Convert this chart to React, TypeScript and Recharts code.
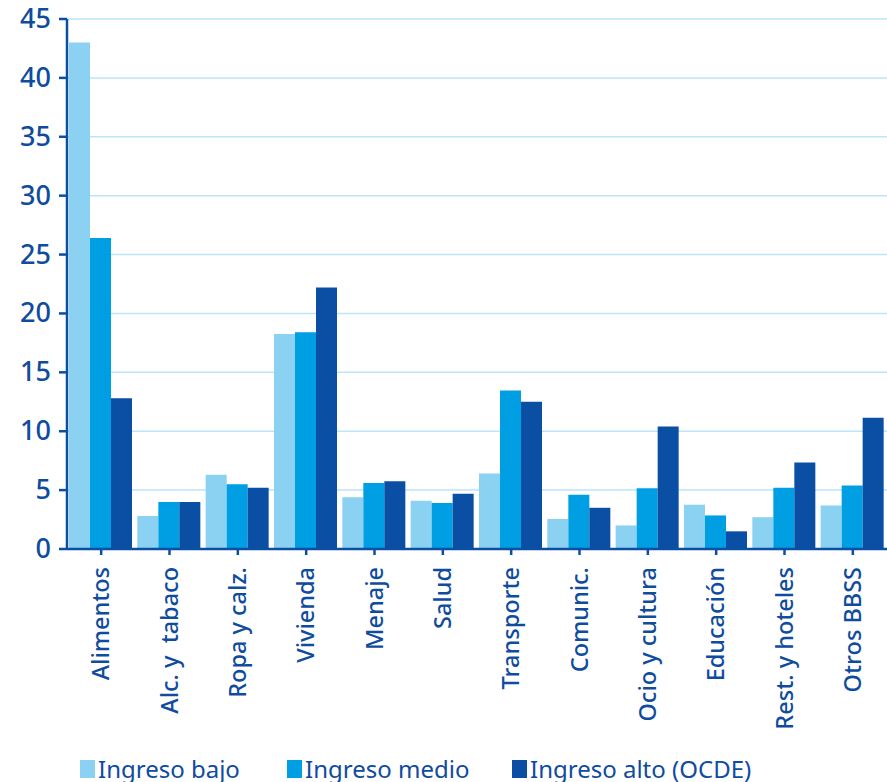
import React from "react";
import {
  BarChart,
  Bar,
  XAxis,
  YAxis,
  CartesianGrid,
  Legend,
} from "recharts";

const categories = [
  "Alimentos",
  "Alc. y  tabaco",
  "Ropa y calz.",
  "Vivienda",
  "Menaje",
  "Salud",
  "Transporte",
  "Comunic.",
  "Ocio y cultura",
  "Educación",
  "Rest. y hoteles",
  "Otros BBSS",
];

const ingresoBajo = [43.0, 2.8, 6.3, 18.25, 4.4, 4.1, 6.4, 2.55, 2.0, 3.75, 2.7, 3.7];
const ingresoMedio = [26.4, 4.0, 5.5, 18.4, 5.6, 3.9, 13.45, 4.6, 5.15, 2.85, 5.2, 5.4];
const ingresoAlto = [12.8, 4.0, 5.2, 22.2, 5.75, 4.7, 12.5, 3.5, 10.4, 1.5, 7.35, 11.15];

const yTicks = [0, 5, 10, 15, 20, 25, 30, 35, 40, 45];

const series = [
  { key: "bajo", name: "Ingreso bajo", color: "#8AD1F2" },
  { key: "medio", name: "Ingreso medio", color: "#009FE3" },
  { key: "alto", name: "Ingreso alto (OCDE)", color: "#0A4FA3" },
];

const data = categories.map((name, i) => ({
  name,
  bajo: ingresoBajo[i],
  medio: ingresoMedio[i],
  alto: ingresoAlto[i],
}));

const TEXT = "#0F4C9E";
const FONT = "'Noto Sans', sans-serif";

function XTick({ x, y, payload }: any) {
  return (
    <text
      transform={`translate(${x + 8},${y + 10}) rotate(-90)`}
      textAnchor="end"
      fill={TEXT}
      fontSize={23.5}
      fontWeight={500}
      fontFamily={FONT}
      style={{ whiteSpace: "pre" }}
    >
      {payload.value}
    </text>
  );
}

function YTick({ x, y, payload }: any) {
  return (
    <text
      x={x - 6}
      y={y}
      dy={9}
      textAnchor="end"
      fill={TEXT}
      fontSize={27}
      fontWeight={500}
      fontFamily={FONT}
    >
      {payload.value}
    </text>
  );
}

function LegendContent() {
  const lefts = [80, 287, 512];
  return (
    <div style={{ position: "relative", height: 30 }}>
      {series.map((s, i) => (
        <div
          key={s.key}
          style={{
            position: "absolute",
            left: lefts[i],
            top: 0,
            display: "flex",
            alignItems: "center",
            fontFamily: FONT,
            fontSize: 24,
            color: TEXT,
            whiteSpace: "nowrap",
          }}
        >
          <span
            style={{
              display: "inline-block",
              width: 15,
              height: 18,
              background: s.color,
              marginRight: 3,
            }}
          />
          {s.name}
        </div>
      ))}
    </div>
  );
}

export default function App() {
  return (
    <div style={{ position: "absolute", left: 0, top: 0 }}>
      <BarChart
        width={887}
        height={782}
        data={data}
        margin={{ top: 19, right: 0, bottom: 0, left: 0 }}
        barCategoryGap={2}
        barGap={0}
      >
        <CartesianGrid vertical={false} stroke="#BDE5F7" strokeWidth={1.5} />
        <XAxis
          dataKey="name"
          interval={0}
          height={203}
          tick={<XTick />}
          axisLine={{ stroke: "#0A4FA3", strokeWidth: 2.5 }}
          tickLine={{ stroke: "#0A4FA3", strokeWidth: 2.5 }}
          tickSize={6}
        />
        <YAxis
          width={67}
          domain={[0, 45]}
          ticks={yTicks}
          interval={0}
          axisLine={{ stroke: "#0A4FA3", strokeWidth: 2.5 }}
          tickLine={{ stroke: "#0A4FA3", strokeWidth: 2.5 }}
          tickSize={8}
          tick={<YTick />}
        />
        <Legend verticalAlign="bottom" content={<LegendContent />} />
        {series.map((s) => (
          <Bar
            key={s.key}
            dataKey={s.key}
            name={s.name}
            fill={s.color}
            isAnimationActive={false}
          />
        ))}
      </BarChart>
    </div>
  );
}
